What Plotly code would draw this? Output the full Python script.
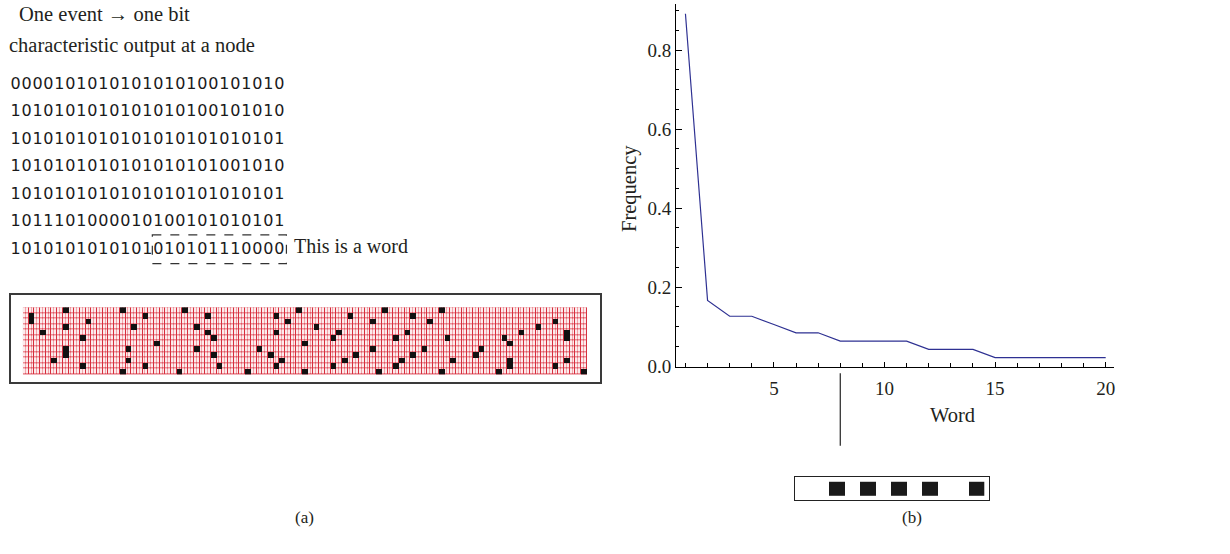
import numpy as np
import plotly.graph_objects as go

W, H = 1230, 554

# ---------------- data ----------------
bit_rows = [
    "0000101010101010100101010",
    "1010101010101010100101010",
    "1010101010101010101010101",
    "1010101010101010101001010",
    "1010101010101010101010101",
    "1011101000010100101010101",
    "1010101010101010101110000",
]
word_start = 13  # index where the boxed word starts in the last row

word_rank = list(range(1, 21))
word_freq = [0.892, 0.166, 0.126, 0.126, 0.105, 0.084, 0.084, 0.063, 0.063, 0.063,
             0.063, 0.042, 0.042, 0.042, 0.021, 0.021, 0.021, 0.021, 0.021, 0.021]

raster_rows, raster_cols = 12, 99
raster_on = [
    (0, 7), (1, 1), (2, 1), (4, 3), (3, 7), (2, 11), (5, 10), (7, 7), (8, 7), (9, 5), (10, 10),
    (0, 17), (1, 21), (3, 19), (6, 23), (7, 18), (9, 18), (11, 17), (10, 21), (11, 27),
    (0, 28), (3, 30), (7, 30), (1, 32), (4, 32), (5, 33), (8, 33), (10, 34), (11, 39),
    (7, 41), (8, 43), (1, 44), (4, 44), (9, 45), (10, 44), (2, 46), (0, 48), (6, 49),
    (11, 49), (3, 51), (5, 54), (4, 55), (10, 54), (9, 56), (1, 57), (8, 58), (2, 61),
    (7, 61), (11, 62), (0, 63), (5, 65), (10, 65), (9, 66), (4, 67), (1, 68), (8, 68),
    (7, 70), (2, 71), (0, 73), (5, 74), (9, 75), (11, 73), (8, 79), (7, 80), (11, 83),
    (5, 84), (6, 85), (9, 85), (10, 85), (4, 87), (3, 90), (2, 93), (10, 93), (4, 95),
    (5, 95), (9, 95), (11, 98),
]

word_bits = [0, 0, 1, 0, 1, 0, 1, 0, 1, 0, 0, 1]

# ---------------- helpers ----------------
def px(x):
    return x / W

def py(y):
    return (H - y) / H

SERIF = "Liberation Serif"
TXT = "#231f20"

fig = go.Figure()

# ---- binary text (per-character on an overlay axis) ----
cx, cy, ct = [], [], []
for r, s in enumerate(bit_rows):
    for i, ch in enumerate(s):
        cx.append(i)
        cy.append(r)
        ct.append(ch)
fig.add_trace(go.Scatter(
    x=cx, y=cy, text=ct, mode="text", xaxis="x2", yaxis="y2",
    textfont=dict(family="DejaVu Sans", size=16, color="#1a1a1a"),
    hoverinfo="skip", showlegend=False))

# ---- raster ----
rc = np.arange(raster_cols)
rr = np.arange(raster_rows)
fig.add_trace(go.Heatmap(
    z=np.ones((raster_rows, raster_cols)), x=rc, y=rr,
    colorscale=[[0, "#d62e3d"], [1, "#d62e3d"]], showscale=False,
    xaxis="x3", yaxis="y3", hoverinfo="skip"))
fig.add_trace(go.Heatmap(
    z=np.zeros((raster_rows, raster_cols)), x=rc, y=rr,
    colorscale=[[0, "#f2a4aa"], [1, "#f2a4aa"]], showscale=False,
    xgap=1, ygap=1, xaxis="x3", yaxis="y3", hoverinfo="skip"))
fig.add_trace(go.Heatmap(
    z=np.zeros((raster_rows, raster_cols * 2)), x=np.arange(raster_cols * 2) * 0.5 - 0.25, y=rr,
    colorscale=[[0, "#fcebec"], [1, "#fcebec"]], showscale=False,
    xgap=1, ygap=1, xaxis="x3", yaxis="y3", hoverinfo="skip"))
blk = [[None] * raster_cols for _ in range(raster_rows)]
for r, c in raster_on:
    blk[r][c] = 1
fig.add_trace(go.Heatmap(
    z=blk, x=rc, y=rr,
    colorscale=[[0, "#111111"], [1, "#111111"]], showscale=False, zmin=0, zmax=1,
    xaxis="x3", yaxis="y3", hoverinfo="skip"))

# ---- frequency line ----
fig.add_trace(go.Scatter(
    x=word_rank, y=word_freq, mode="lines",
    line=dict(color="#2e3192", width=1.2), showlegend=False, hoverinfo="skip"))

# ---- word bits box ----
wz = [[None if b == 0 else 1 for b in word_bits]]
fig.add_trace(go.Heatmap(
    z=wz, x=np.arange(len(word_bits)), y=[0],
    colorscale=[[0, "#1a1a1a"], [1, "#1a1a1a"]], showscale=False, zmin=0, zmax=1,
    xaxis="x4", yaxis="y4", hoverinfo="skip"))

# ---------------- layout ----------------
hidden = dict(visible=False, showgrid=False, zeroline=False, fixedrange=True)

xd = [px(676.7), px(1115)]
yd = [py(373.3), py(4)]
row0 = 86.5  # pixel centre of first bit row

fig.update_layout(
    width=W, height=H, margin=dict(l=0, r=0, t=0, b=0),
    paper_bgcolor="white", plot_bgcolor="rgba(0,0,0,0)",
    showlegend=False,
    xaxis=dict(domain=xd, range=[0.58, 20.38], showgrid=False, zeroline=False,
               showline=True, linecolor="black", linewidth=1,
               ticks="inside", ticklen=5, tickcolor="black", dtick=5, tick0=0,
               minor=dict(dtick=1, tick0=0, ticks="inside", ticklen=4, tickcolor="black"),
               ticklabelstandoff=5,
               tickfont=dict(family=SERIF, size=19, color=TXT), anchor="y"),
    yaxis=dict(domain=yd, range=[-0.0015, 0.917], showgrid=False, zeroline=False,
               showline=True, linecolor="black", linewidth=1,
               ticks="inside", ticklen=6, tickcolor="black", dtick=0.2, tick0=0,
               tickformat=".1f",
               minor=dict(dtick=0.05, tick0=0, ticks="inside", ticklen=3, tickcolor="black"),
               tickfont=dict(family=SERIF, size=19, color=TXT), anchor="x"),
    xaxis2=dict(domain=[0, 1], range=[(0 - 15.5) / 11, (W - 15.5) / 11], anchor="y2", **hidden),
    yaxis2=dict(domain=[0, 1], range=[(H - row0) / 28, (0 - row0) / 28], anchor="x2", **hidden),
    xaxis3=dict(domain=[px(11), px(600)],
                range=[(11 - 23) / 5.7 - 0.5, (600 - 23) / 5.7 - 0.5],
                showgrid=False, zeroline=False, showticklabels=False, ticks="",
                showline=True, mirror=True, linecolor="#3a3a3a", linewidth=1.5,
                anchor="y3", fixedrange=True),
    yaxis3=dict(domain=[py(389), py(300)],
                range=[(389 - 313) / 5.67 - 0.5, (300 - 313) / 5.67 - 0.5],
                showgrid=False, zeroline=False, showticklabels=False, ticks="",
                showline=True, mirror=True, linecolor="#3a3a3a", linewidth=1.5,
                anchor="x3", fixedrange=True),
    xaxis4=dict(domain=[px(796), px(990)], range=[-0.69, 11.82],
                showgrid=False, zeroline=False, showticklabels=False, ticks="",
                showline=True, mirror=True, linecolor="#222222", linewidth=1,
                anchor="y4", fixedrange=True),
    yaxis4=dict(domain=[py(509.3), py(486)], range=[-0.83, 0.83],
                showgrid=False, zeroline=False, showticklabels=False, ticks="",
                showline=True, mirror=True, linecolor="#222222", linewidth=1,
                anchor="x4", fixedrange=True),
)

n = len(bit_rows[-1])
fig.add_shape(type="rect", xref="x2", yref="y2",
              x0=word_start - 0.55, x1=n - 0.35,
              y0=len(bit_rows) - 1 - 0.55, y1=len(bit_rows) - 1 + 0.5,
              line=dict(color="#333333", width=1.2, dash="dash"))

fig.add_shape(type="line", xref="x", yref="paper", x0=8, x1=8,
              y0=py(380), y1=py(454), line=dict(color="#222222", width=1.2))

ann = [
    dict(text="One event \u2192 one bit", x=px(17), y=py(14), xanchor="left", size=20.5),
    dict(text="characteristic output at a node", x=px(7), y=py(46), xanchor="left", size=20.5),
    dict(text="This is a word", x=px(292), y=py(251), xanchor="left", size=20),
    dict(text="Word", x=px(953), y=py(423), xanchor="center", size=20.5),
    dict(text="(a)", x=px(305), y=py(527), xanchor="center", size=17),
    dict(text="(b)", x=px(913), y=py(527), xanchor="center", size=17),
]
for a in ann:
    fig.add_annotation(text=a["text"], x=a["x"], y=a["y"], xref="paper", yref="paper",
                       xanchor=a["xanchor"], yanchor="middle", showarrow=False,
                       font=dict(family=SERIF, size=a["size"], color=TXT))
fig.add_annotation(text="Frequency", x=px(630), y=py(192), xref="paper", yref="paper",
                   textangle=-90, xanchor="center", yanchor="middle", showarrow=False,
                   font=dict(family=SERIF, size=20.5, color=TXT))

fig.write_html("out.html")
